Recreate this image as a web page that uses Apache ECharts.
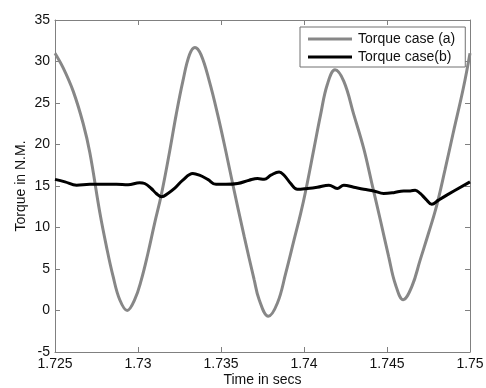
<!DOCTYPE html>
<html>
<head>
<meta charset="utf-8">
<script src="https://cdn.jsdelivr.net/npm/echarts@6/dist/echarts.min.js"></script>
<style>
html,body{margin:0;padding:0;background:#fff;}
#chart{width:486px;height:388px;}
</style>
</head>
<body>
<div id="chart"></div>
<script>
// Torque case (a)
var timeA = [1.7250, 1.7255, 1.7261, 1.7267, 1.7271, 1.7277, 1.7281, 1.7285, 1.7289, 1.72935,
  1.7298, 1.7302, 1.7306, 1.7310, 1.7314, 1.7319, 1.7323, 1.7327, 1.7331, 1.73343,
  1.7338, 1.7343, 1.7348, 1.7353, 1.7357, 1.7364, 1.7370, 1.7373, 1.73785,
  1.7384, 1.7389, 1.7394, 1.7398, 1.7401, 1.7406, 1.7410, 1.7414, 1.74187,
  1.7424, 1.7430, 1.7436, 1.7441, 1.7446, 1.7451, 1.7455, 1.74598,
  1.7465, 1.7470, 1.7475, 1.7480, 1.7485, 1.7490, 1.7496, 1.7500];
var torqueA = [31.0, 29.2, 26.4, 22.5, 19.0, 11.8, 7.7, 4.1, 1.3, 0.0,
  1.3, 3.7, 6.9, 10.5, 13.9, 19.1, 23.6, 27.6, 30.8, 31.7,
  30.8, 27.6, 23.6, 19.1, 15.3, 8.9, 3.7, 1.3, -0.7,
  0.9, 4.5, 8.5, 11.7, 14.4, 19.5, 23.6, 27.2, 29.0,
  27.6, 23.6, 19.5, 15.2, 10.9, 6.5, 3.2, 1.3,
  2.9, 6.1, 9.3, 12.7, 17.0, 21.5, 26.8, 31.0];

// Torque case (b)
var timeB = [1.7250, 1.7256, 1.7263, 1.7271, 1.7279, 1.7287, 1.7294, 1.7301, 1.7304, 1.7308, 1.7311, 1.73143,
  1.7318, 1.7322, 1.7327, 1.7333, 1.7337, 1.7342, 1.7347, 1.7353, 1.7360, 1.7367, 1.7372,
  1.7376, 1.7380, 1.7385, 1.7388, 1.7392, 1.7396, 1.7402, 1.7408, 1.7415, 1.7420, 1.7424, 1.7430,
  1.7436, 1.7442, 1.7448, 1.7454, 1.7460, 1.7464, 1.7467, 1.7470, 1.74735, 1.7477, 1.7481, 1.7486, 1.7500];
var torqueB = [15.8, 15.5, 15.1, 15.2, 15.2, 15.2, 15.15, 15.4, 15.3, 14.7, 14.1, 13.7,
  14.1, 14.7, 15.7, 16.5, 16.3, 15.8, 15.2, 15.2, 15.3, 15.7, 15.9,
  15.8, 16.3, 16.7, 16.3, 15.3, 14.6, 14.7, 14.85, 15.1, 14.7, 15.1, 14.85,
  14.6, 14.4, 14.1, 14.2, 14.4, 14.4, 14.5, 14.1, 13.4, 12.8, 13.3, 13.9, 15.5];

var xTicks = [1.725, 1.73, 1.735, 1.74, 1.745, 1.75];
var yTicks = [-5, 0, 5, 10, 15, 20, 25, 30, 35];

function zip(t, v) { return t.map(function (x, i) { return [x, v[i]]; }); }

var chart = echarts.init(document.getElementById('chart'), null, {renderer: 'canvas'});
var axisColor = '#808080';
var font = 'Liberation Sans, Arial, sans-serif';
var common = {
  axisLine: {show: true, onZero: false, lineStyle: {color: axisColor, width: 1}},
  axisTick: {show: true, inside: true, length: 5, lineStyle: {color: axisColor}},
  splitLine: {show: false}
};
chart.setOption({
  animation: false,
  backgroundColor: '#fff',
  grid: {left: 55, right: 16, top: 20, bottom: 36, containLabel: false, outerBoundsMode: 'none'},
  legend: {
    orient: 'vertical', left: 300, top: 27,
    width: 170,
    padding: [4, 10, 2, 8], itemGap: 2,
    itemWidth: 44, itemHeight: 3,
    backgroundColor: '#fff', borderColor: '#707070', borderWidth: 1,
    textStyle: {fontFamily: font, fontSize: 14, lineHeight: 16, color: '#111', padding: [0, 0, 0, 1]},
    data: [{name: 'Torque case (a)', icon: 'rect'}, {name: 'Torque case(b)', icon: 'rect'}]
  },
  xAxis: [Object.assign({
    type: 'value', min: xTicks[0], max: xTicks[xTicks.length - 1], interval: 0.005,
    name: 'Time in secs', nameLocation: 'middle', nameGap: 21, nameMoveOverlap: false,
    nameTextStyle: {fontFamily: font, fontSize: 14, color: '#111'},
    axisLabel: {fontFamily: font, fontSize: 14, color: '#111', margin: 5,
      formatter: function (v) { return String(+v.toFixed(3)); }}
  }, common), Object.assign({
    type: 'value', position: 'top', min: xTicks[0], max: xTicks[xTicks.length - 1], interval: 0.005,
    axisLabel: {show: false}
  }, common)],
  yAxis: [Object.assign({
    type: 'value', min: yTicks[0], max: yTicks[yTicks.length - 1], interval: 5,
    name: 'Torque in N.M.', nameLocation: 'middle', nameGap: 27, nameMoveOverlap: false,
    nameTextStyle: {fontFamily: font, fontSize: 14, color: '#111'},
    axisLabel: {fontFamily: font, fontSize: 14, color: '#111', margin: 5}
  }, common), Object.assign({
    type: 'value', position: 'right', min: yTicks[0], max: yTicks[yTicks.length - 1], interval: 5,
    axisLabel: {show: false}
  }, common)],
  series: [{
    name: 'Torque case (a)', type: 'line', data: zip(timeA, torqueA),
    smooth: 0.4, showSymbol: false, clip: true,
    color: '#878787', lineStyle: {color: '#878787', width: 3}
  }, {
    name: 'Torque case(b)', type: 'line', data: zip(timeB, torqueB),
    smooth: 0.4, showSymbol: false, clip: true,
    color: '#000', lineStyle: {color: '#000', width: 3}
  }]
});
</script>
</body>
</html>
